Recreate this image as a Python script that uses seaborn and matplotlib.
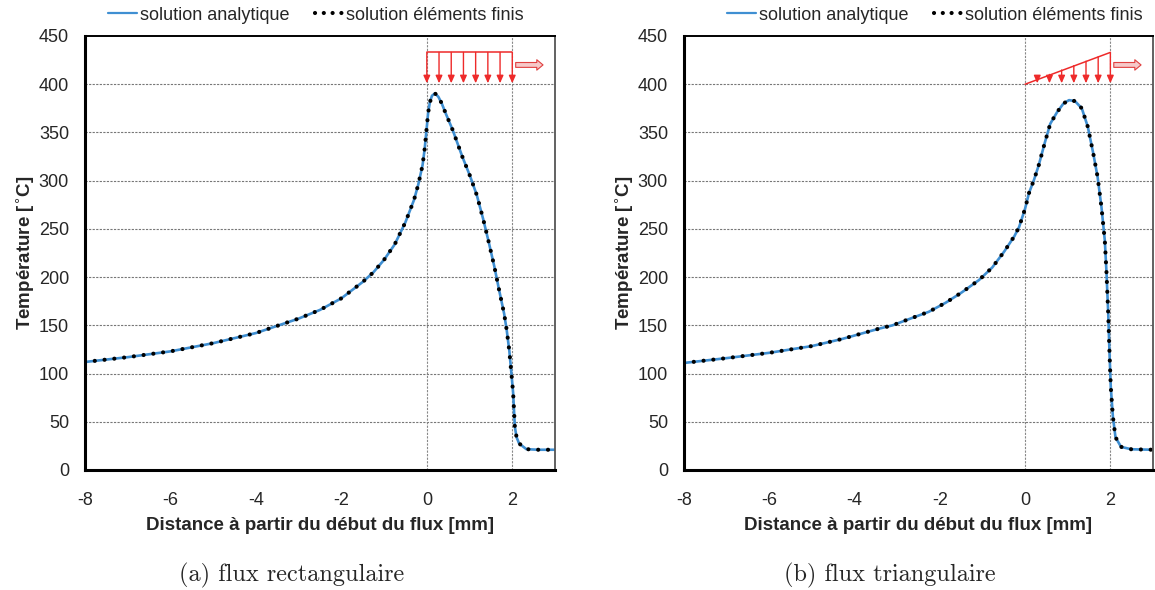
import numpy as np
import pandas as pd
import seaborn as sns
import matplotlib
matplotlib.use('Agg')
import matplotlib.pyplot as plt
from matplotlib.lines import Line2D

# Data (x in mm, T in degC).
x_rect = [-8, -7, -6, -5, -4, -3, -2.5, -2, -1.5, -1.25, -1, -0.75, -0.5, -0.3, -0.2,
          -0.1, -0.05, 0, 0.03, 0.07, 0.12, 0.19, 0.27, 0.35, 0.44, 0.61, 0.83, 1.01,
          1.17, 1.32, 1.44, 1.58, 1.69, 1.81, 1.87, 1.93, 1.98, 2.02, 2.06, 2.10, 2.16,
          2.33, 2.61, 3.0]
T_rect = [112, 117, 123, 131.5, 142, 157, 166, 178, 195, 205, 218, 234, 257, 280, 296,
          316, 333, 356, 370, 381, 388, 390.5, 387, 380, 370, 352, 325, 305,
          285, 260, 238, 211, 187, 162, 145, 124, 100, 80, 45, 34, 27.5,
          21.6, 21, 21]

x_tri = [-8, -7, -6, -5, -4.28, -3.43, -3.11, -2.69, -2.26, -1.86, -1.49, -1.08, -0.77,
         -0.49, -0.25, -0.14, 0, 0.09, 0.21, 0.32, 0.46, 0.59, 0.75, 0.90, 1.03, 1.17,
         1.33, 1.47, 1.60, 1.70, 1.79, 1.87, 1.91, 1.95, 1.98, 2.01, 2.06, 2.12, 2.25,
         2.49, 3.0]
T_tri = [111, 116, 121.5, 128.5, 136, 146.5, 150, 157, 164, 173.5, 184, 197, 210,
         226.5, 242.5, 252, 271, 287, 301, 316, 339, 359, 371, 380, 383.5, 382.5,
         375, 356, 328, 304, 273, 238, 204, 162, 121, 86, 55, 34, 24,
         21.5, 21]

labels = ['solution analytique', 'solution éléments finis']
captions = ['(a) flux rectangulaire', '(b) flux triangulaire']
xlabel = 'Distance à partir du début du flux [mm]'
ylabel = 'Température [$^{\\circ}$C]'

# flux sketch: start, end, base and top temperature-level of the drawing
flux_start, flux_end = 0, 2
flux_base, flux_top = 401, 433
n_arrows = 8

blue = '#3f8fd2'
red = '#ee2a2a'


def draw_panel(ax, x, T, kind):
    df = pd.DataFrame({'x': x, 'T': T})
    sns.lineplot(data=df, x='x', y='T', ax=ax, color=blue, linewidth=1.9,
                 sort=False, estimator=None)
    sns.lineplot(data=df, x='x', y='T', ax=ax, color='black', linewidth=3.0,
                 linestyle=(0, (0.01, 2.35)), dash_capstyle='round',
                 sort=False, estimator=None)

    ax.set_xlim(-8, 3)
    ax.set_ylim(0, 450)
    ax.set_xticks(range(-8, 3, 2))
    ax.set_yticks(range(0, 451, 50))
    for y in range(50, 450, 50):
        ax.axhline(y, color='#777777', lw=0.8, ls=(0, (2, 1.2)), zorder=0)
    for xv in (flux_start, flux_end):
        ax.axvline(xv, color='#888888', lw=0.8, ls=(0, (2, 1.2)), zorder=0)

    ax.set_xlabel(xlabel, fontsize=13.5, fontweight='bold', labelpad=6)
    ax.set_ylabel(ylabel, fontsize=13.5, fontweight='bold', labelpad=2)
    ax.tick_params(axis='both', labelsize=13, direction='inout', length=7,
                   width=1.5, color='black')
    ax.tick_params(axis='x', pad=12)
    ax.tick_params(axis='y', pad=8)
    for s in ('left', 'bottom'):
        ax.spines[s].set_color('black')
        ax.spines[s].set_linewidth(2.2)
    ax.spines['top'].set_color('black')
    ax.spines['top'].set_linewidth(1.4)
    ax.spines['right'].set_color('#555555')
    ax.spines['right'].set_linewidth(1.3)

    # flux sketch
    xs = np.linspace(flux_start, flux_end, n_arrows)
    if kind == 'rect':
        tops = np.full(n_arrows, flux_top)
        ax.plot([flux_start, flux_end], [flux_top, flux_top], color=red, lw=1.1)
    else:
        tops = flux_base + (flux_top - flux_base) * (xs - flux_start) / (flux_end - flux_start)
        ax.plot([flux_start, flux_end], [flux_base - 1, flux_top], color=red, lw=1.1)
    for xa, ta in zip(xs, tops):
        if ta - flux_base < 2:
            continue
        ax.annotate('', xy=(xa, flux_base), xytext=(xa, ta),
                    arrowprops=dict(arrowstyle='-|>,head_length=0.45,head_width=0.2',
                                    color=red, lw=1.0, shrinkA=0, shrinkB=0))
    ax.annotate('', xy=(2.72, 420), xytext=(2.08, 420),
                arrowprops=dict(arrowstyle='simple,head_length=0.45,head_width=0.75,tail_width=0.35',
                                fc='#f6c9c9', ec='#e04040', lw=0.8, shrinkA=0, shrinkB=0))


def main():
    sns.set_style('white')
    plt.rcParams['font.family'] = ['Liberation Sans', 'DejaVu Sans']
    plt.rcParams['axes.unicode_minus'] = False

    fig = plt.figure(figsize=(11.55, 5.9), dpi=100)
    ax1 = fig.add_axes([85 / 1155, 1 - 470 / 590, 470 / 1155, 434 / 590])
    ax2 = fig.add_axes([684 / 1155, 1 - 470 / 590, 469 / 1155, 434 / 590])

    draw_panel(ax1, x_rect, T_rect, 'rect')
    draw_panel(ax2, x_tri, T_tri, 'tri')

    handles = [Line2D([], [], color=blue, lw=1.6),
               Line2D([], [], color='black', lw=3.0, ls=(0, (0.01, 2.1)),
                      dash_capstyle='round')]
    for cx in (316 / 1155, 935 / 1155):
        fig.legend(handles, labels, loc='center', bbox_to_anchor=(cx, 1 - 15 / 590),
                   ncol=2, frameon=False, fontsize=13, handlelength=1.6,
                   handletextpad=0.15, columnspacing=1.4, borderpad=0)
    fig.text(292 / 1155, 1 - 575 / 590, captions[0], ha='center', va='center',
             fontsize=17.5, family=['cmr10', 'DejaVu Serif'])
    fig.text(890 / 1155, 1 - 575 / 590, captions[1], ha='center', va='center',
             fontsize=17.5, family=['cmr10', 'DejaVu Serif'])

    fig.savefig('out.png', dpi=100)
    plt.close(fig)


if __name__ == '__main__':
    main()
